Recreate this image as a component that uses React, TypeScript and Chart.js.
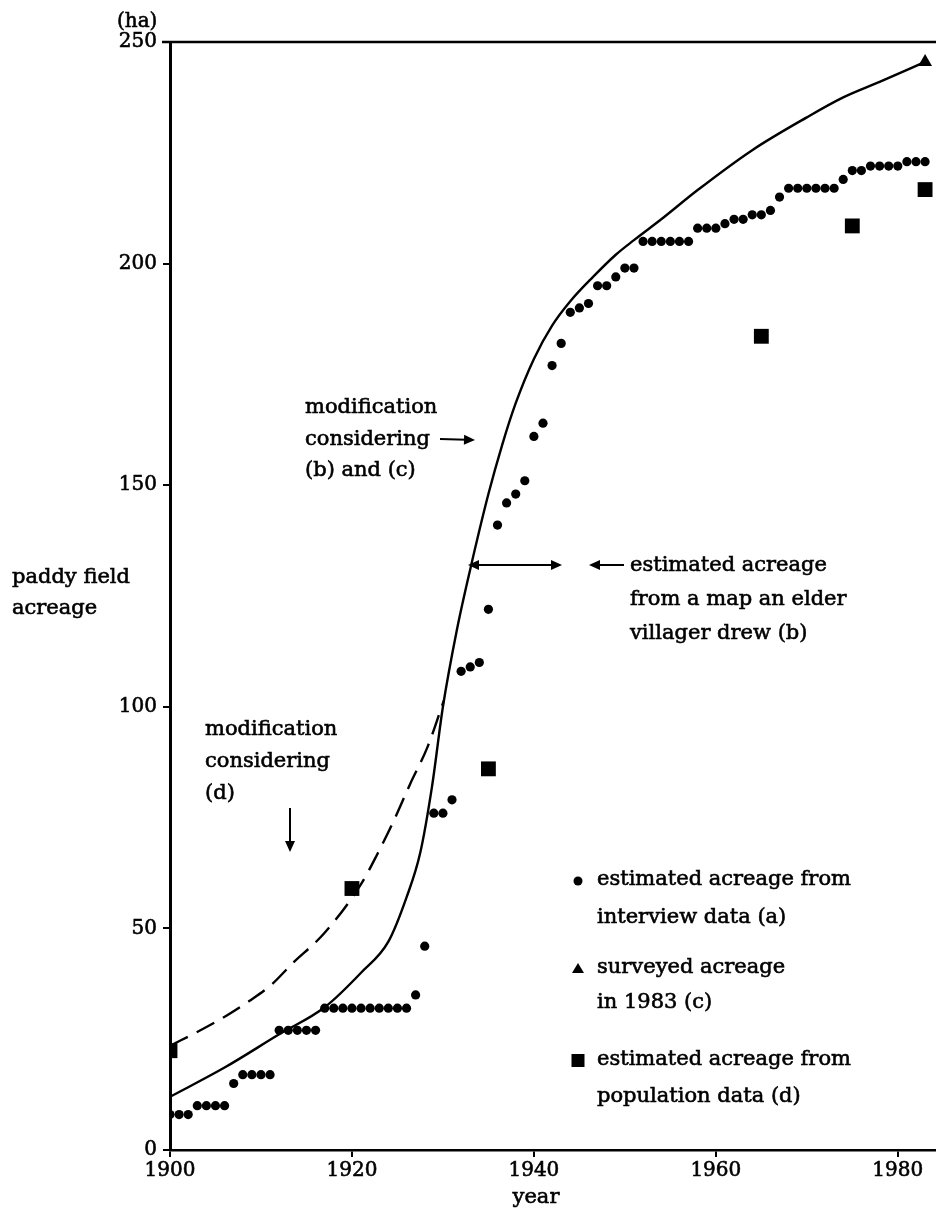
import { useEffect, useRef } from "react";
import { Chart, registerables } from "chart.js";

Chart.register(...registerables);

// ---- data ----
const dotYears = [
  1900, 1901, 1902, 1903, 1904, 1905, 1906, 1907, 1908, 1909, 1910, 1911,
  1912, 1913, 1914, 1915, 1916, 1917, 1918, 1919, 1920, 1921, 1922, 1923,
  1924, 1925, 1926, 1927, 1928, 1929, 1930, 1931, 1932, 1933, 1934, 1935,
  1936, 1937, 1938, 1939, 1940, 1941, 1942, 1943, 1944, 1945, 1946, 1947,
  1948, 1949, 1950, 1951, 1952, 1953, 1954, 1955, 1956, 1957, 1958, 1959,
  1960, 1961, 1962, 1963, 1964, 1965, 1966, 1967, 1968, 1969, 1970, 1971,
  1972, 1973, 1974, 1975, 1976, 1977, 1978, 1979, 1980, 1981, 1982, 1983,
];
const dotValues = [
  8, 8, 8, 10, 10, 10, 10, 15, 17, 17, 17, 17,
  27, 27, 27, 27, 27, 32, 32, 32, 32, 32, 32, 32,
  32, 32, 32, 35, 46, 76, 76, 79, 108, 109, 110, 122,
  141, 146, 148, 151, 161, 164, 177, 182, 189, 190, 191, 195,
  195, 197, 199, 199, 205, 205, 205, 205, 205, 205, 208, 208,
  208, 209, 210, 210, 211, 211, 212, 215, 217, 217, 217, 217,
  217, 217, 219, 221, 221, 222, 222, 222, 222, 223, 223, 223,
];

const squareYears = [1900, 1920, 1935, 1965, 1975, 1983];
const squareValues = [22.4, 59, 86, 183.6, 208.5, 216.7];

const triangleYears = [1983];
const triangleValues = [245.5];

const solidYears = [
  1900, 1906, 1912, 1917, 1921, 1924, 1926, 1927.5, 1928.8, 1930, 1931.5,
  1933, 1935, 1936.5, 1938, 1940, 1942, 1944, 1946.5, 1949, 1951, 1954,
  1958, 1964, 1970, 1974, 1978, 1983,
];
const solidValues = [
  12, 18.6, 26.1, 32.2, 40, 47, 57, 67, 82, 100, 117,
  131, 148, 159, 168.5, 178.5, 186, 191.5, 197, 202, 205.3, 210,
  216.6, 225.6, 233, 237.5, 241, 245.5,
];

const dashedYears = [1900, 1903.6, 1906.2, 1908.7, 1911.2, 1913.4, 1917, 1921, 1922.8, 1924.6, 1926.4, 1928.3, 1930.1];
const dashedValues = [23.5, 27.3, 30.3, 33.6, 37.4, 42, 49, 60, 66.8, 74.3, 82.6, 90.9, 101.4];

const xTicks = [1900, 1920, 1940, 1960, 1980];
const yTicks = [0, 50, 100, 150, 200, 250];

const legendLabels = [
  ["estimated acreage from", "interview data (a)"],
  ["surveyed acreage", "in 1983 (c)"],
  ["estimated acreage from", "population data (d)"],
];

const FONT = "'DejaVu Serif', serif";

const pts = (xs: number[], ys: number[]) => xs.map((x, i) => ({ x, y: ys[i] }));

function arrow(ctx: CanvasRenderingContext2D, x1: number, y1: number, x2: number, y2: number) {
  const ang = Math.atan2(y2 - y1, x2 - x1);
  const hl = 11;
  const hw = 5;
  ctx.beginPath();
  ctx.moveTo(x1, y1);
  ctx.lineTo(x2 - Math.cos(ang) * hl * 0.8, y2 - Math.sin(ang) * hl * 0.8);
  ctx.stroke();
  ctx.beginPath();
  ctx.moveTo(x2, y2);
  ctx.lineTo(x2 - Math.cos(ang) * hl - Math.sin(ang) * hw, y2 - Math.sin(ang) * hl + Math.cos(ang) * hw);
  ctx.lineTo(x2 - Math.cos(ang) * hl + Math.sin(ang) * hw, y2 - Math.sin(ang) * hl - Math.cos(ang) * hw);
  ctx.closePath();
  ctx.fill();
}

const decorPlugin = {
  id: "decor",
  afterDraw(chart: any) {
    const ctx: CanvasRenderingContext2D = chart.ctx;
    const { left, top } = chart.chartArea;
    ctx.save();
    ctx.strokeStyle = "#000";
    ctx.fillStyle = "#000";
    // top frame line
    ctx.lineWidth = 2.5;
    ctx.beginPath();
    ctx.moveTo(left - 8, top);
    ctx.lineTo(chart.width, top);
    ctx.stroke();

    ctx.textBaseline = "middle";
    ctx.textAlign = "left";
    const text = (s: string, x: number, y: number) => {
      ctx.save();
      ctx.lineWidth = 0.6;
      ctx.strokeText(s, x, y);
      ctx.fillText(s, x, y);
      ctx.restore();
    };

    ctx.font = `20px ${FONT}`;
    text("(ha)", 117, 22);
    ctx.font = `21px ${FONT}`;
    text("paddy field", 12, 578);
    text("acreage", 12, 609);
    ctx.textAlign = "center";
    text("year", 536, 1198);
    ctx.textAlign = "left";

    // annotation (b) and (c)
    text("modification", 305, 408);
    text("considering", 305, 440);
    text("(b) and (c)", 305, 471);
    ctx.lineWidth = 2;
    arrow(ctx, 440, 439, 475, 440);

    // annotation (b)
    arrow(ctx, 515, 565, 468, 565);
    arrow(ctx, 515, 565, 562, 565);
    arrow(ctx, 624, 565, 589, 565);
    text("estimated acreage", 630, 566);
    text("from a map an elder", 630, 600);
    text("villager drew (b)", 630, 634);

    // annotation (d)
    text("modification", 205, 730);
    text("considering", 205, 762);
    text("(d)", 205, 794);
    arrow(ctx, 290, 808, 290, 852);

    // legend
    const lx = 578;
    const tx = 597;
    const rows = [880, 968, 1060];
    const gap = [38, 35, 37];
    rows.forEach((ry, i) => {
      if (i === 0) {
        ctx.beginPath();
        ctx.arc(lx, ry + 1, 4.5, 0, Math.PI * 2);
        ctx.fill();
      } else if (i === 1) {
        ctx.beginPath();
        ctx.moveTo(lx, ry - 5);
        ctx.lineTo(lx + 6, ry + 5);
        ctx.lineTo(lx - 6, ry + 5);
        ctx.closePath();
        ctx.fill();
      } else {
        ctx.fillRect(lx - 6.5, ry - 6, 13, 13);
      }
      text(legendLabels[i][0], tx, ry);
      text(legendLabels[i][1], tx, ry + gap[i]);
    });
    ctx.restore();
  },
};

export default function App() {
  const ref = useRef<HTMLCanvasElement | null>(null);
  useEffect(() => {
    document.body.style.margin = "0";
    const canvas = ref.current!;
    const chart = new Chart(canvas, {
      type: "scatter",
      data: {
        datasets: [
          {
            label: "interview",
            data: pts(dotYears, dotValues),
            pointStyle: "circle",
            pointRadius: 4.6,
            backgroundColor: "#000",
            borderWidth: 0,
          },
          {
            label: "population",
            data: pts(squareYears, squareValues),
            pointStyle: "rect",
            pointRadius: 10.5,
            backgroundColor: "#000",
            borderWidth: 0,
          },
          {
            label: "surveyed",
            data: pts(triangleYears, triangleValues),
            pointStyle: "triangle",
            pointRadius: 8,
            backgroundColor: "#000",
            borderWidth: 0,
          },
          {
            label: "modification (b)(c)",
            data: pts(solidYears, solidValues),
            showLine: true,
            pointRadius: 0,
            borderColor: "#000",
            borderWidth: 2.4,
            cubicInterpolationMode: "monotone",
          } as any,
          {
            label: "modification (d)",
            data: pts(dashedYears, dashedValues),
            showLine: true,
            pointRadius: 0,
            borderColor: "#000",
            borderWidth: 2.4,
            borderDash: [20, 10],
            cubicInterpolationMode: "monotone",
          } as any,
        ],
      },
      options: {
        responsive: false,
        animation: false,
        devicePixelRatio: 1,
        layout: { autoPadding: false, padding: { top: 42, left: 0, right: 0, bottom: 0 } },
        plugins: { legend: { display: false }, tooltip: { enabled: false } },
        scales: {
          x: {
            type: "linear",
            min: 1900,
            max: 1984.2,
            afterBuildTicks: (axis: any) => {
              axis.ticks = xTicks.map((v) => ({ value: v }));
            },
            afterFit: (scale: any) => {
              scale.height = 61;
            },
            ticks: {
              color: "#000",
              font: { family: FONT, size: 20 },
              textStrokeColor: "#000",
              textStrokeWidth: 0.6,
              padding: 2,
              maxRotation: 0,
              callback: (v: any) => String(v),
            },
            grid: { display: true, drawOnChartArea: false, drawTicks: true, tickLength: 7, color: "#000", lineWidth: 2 },
            border: { display: true, color: "#000", width: 2.5 },
          },
          y: {
            type: "linear",
            min: 0,
            max: 250,
            afterBuildTicks: (axis: any) => {
              axis.ticks = yTicks.map((v) => ({ value: v }));
            },
            afterFit: (scale: any) => {
              scale.width = 170;
            },
            ticks: {
              color: "#000",
              font: { family: FONT, size: 20 },
              textStrokeColor: "#000",
              textStrokeWidth: 0.6,
              padding: 6,
              callback: (v: any) => String(v),
            },
            grid: { display: true, drawOnChartArea: false, drawTicks: true, tickLength: 7, color: "#000", lineWidth: 2 },
            border: { display: true, color: "#000", width: 3 },
          },
        },
      } as any,
      plugins: [decorPlugin],
    });
    return () => chart.destroy();
  }, []);
  return (
    <div style={{ width: 936, height: 1211, background: "#fff" }}>
      <canvas ref={ref} width={936} height={1211} style={{ display: "block" }} />
    </div>
  );
}
